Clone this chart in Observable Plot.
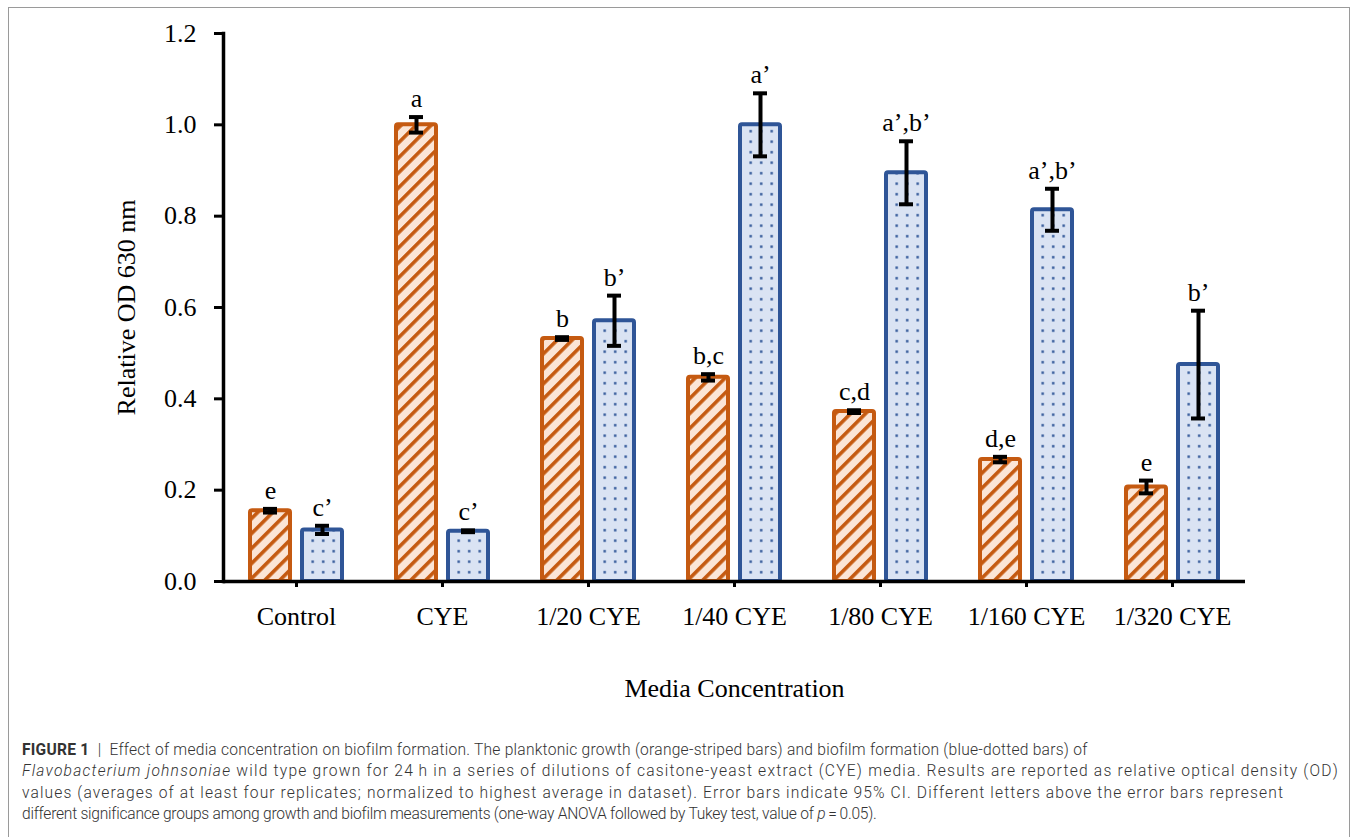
<!DOCTYPE html>
<html><head><meta charset="utf-8">
<script src="https://cdn.jsdelivr.net/npm/d3@7"></script>
<script src="https://cdn.jsdelivr.net/npm/@observablehq/plot@0.6"></script>
<style>
html,body{margin:0;padding:0;background:#fff;}
#frame{position:absolute;left:8px;top:7px;width:1342px;height:840px;border:1px solid #9a9a9a;border-bottom:none;box-sizing:border-box;}
#chart{position:absolute;left:0;top:0;}
#caption{position:absolute;left:22px;top:740px;font-family:Roboto,"Liberation Sans",sans-serif;font-weight:300;font-size:15.6px;line-height:21.3px;color:#333;white-space:nowrap;}
#caption span{display:block;width:max-content;}
#caption b{font-weight:700;}
</style></head><body>
<div id="frame"></div>
<div id="chart"></div>
<div id="caption"><span><b>FIGURE 1</b> &nbsp;|&nbsp; Effect of media concentration on biofilm formation. The planktonic growth (orange-striped bars) and biofilm formation (blue-dotted bars) of</span><span><i>Flavobacterium johnsoniae</i> wild type grown for 24&#8201;h in a series of dilutions of casitone-yeast extract (CYE) media. Results are reported as relative optical density (OD)</span><span>values (averages of at least four replicates; normalized to highest average in dataset). Error bars indicate 95% CI. Different letters above the error bars represent</span><span>different significance groups among growth and biofilm measurements (one-way ANOVA followed by Tukey test, value of <i>p</i>&#8201;=&#8201;0.05).</span></div>
<script>
const categories = ["Control", "CYE", "1/20 CYE", "1/40 CYE", "1/80 CYE", "1/160 CYE", "1/320 CYE"];
const series = ["Growth", "Biofilm"];
const growth = [0.155, 1.0, 0.532, 0.447, 0.372, 0.267, 0.207];
const growthErr = [0.004, 0.017, 0.003, 0.007, 0.003, 0.006, 0.014];
const growthLetters = ["e", "a", "b", "b,c", "c,d", "d,e", "e"];
const biofilm = [0.113, 0.110, 0.571, 1.0, 0.895, 0.814, 0.475];
const biofilmErr = [0.009, 0.002, 0.055, 0.069, 0.069, 0.046, 0.118];
const biofilmLetters = ["c’", "c’", "b’", "a’", "a’,b’", "a’,b’", "b’"];
const yTicks = [0, 0.2, 0.4, 0.6, 0.8, 1.0, 1.2];

const rows = categories.flatMap((c, i) => [
  {category: c, series: "Growth", value: growth[i], err: growthErr[i], letter: growthLetters[i]},
  {category: c, series: "Biofilm", value: biofilm[i], err: biofilmErr[i], letter: biofilmLetters[i]}
]);
const gRows = rows.filter(d => d.series === "Growth");
const bRows = rows.filter(d => d.series === "Biofilm");

const serif = "'Liberation Serif','Times New Roman',serif";
const ORANGE = "#C55A11", PEACH = "#FBE5D6", BLUE = "#2F5597", LIGHTBLUE = "#DAE3F3";

const defs = () => {
  const d = d3.create("svg:defs");
  d.html(`
    <pattern id="stripes" patternUnits="userSpaceOnUse" width="10.6" height="10.6" patternTransform="rotate(45)">
      <rect width="10.6" height="10.6" fill="${PEACH}"/>
      <rect x="0" y="0" width="3.6" height="10.6" fill="${ORANGE}"/>
    </pattern>
    <pattern id="dots" patternUnits="userSpaceOnUse" width="10.5" height="10.5">
      <rect width="10.5" height="10.5" fill="${LIGHTBLUE}"/>
      <rect x="4" y="4" width="2.4" height="2.4" fill="${BLUE}"/>
    </pattern>`);
  return d.node();
};

const plot = Plot.plot({
  width: 1356, height: 720,
  marginLeft: 220, marginRight: 109, marginTop: 33, marginBottom: 139,
  style: {fontFamily: serif, fontSize: "26px", color: "#000", background: "transparent", overflow: "visible"},
  fx: {domain: categories, padding: 0, label: null},
  x: {domain: series, paddingInner: 0.226, paddingOuter: 0.497, axis: null},
  y: {domain: [0, 1.2]},
  marks: [
    defs,
    Plot.barY(gRows, {fx: "category", x: "series", y: "value", fill: "url(#stripes)", stroke: ORANGE, strokeWidth: 4, rx: 2}),
    Plot.barY(bRows, {fx: "category", x: "series", y: "value", fill: "url(#dots)", stroke: BLUE, strokeWidth: 4, rx: 2}),
    Plot.ruleX(rows, {fx: "category", x: "series", y1: d => d.value - d.err, y2: d => d.value + d.err, stroke: "#000", strokeWidth: 4}),
    Plot.tickY(rows, {fx: "category", x: "series", y: d => d.value + d.err, stroke: "#000", strokeWidth: 4, insetLeft: 13, insetRight: 13}),
    Plot.tickY(rows, {fx: "category", x: "series", y: d => d.value - d.err, stroke: "#000", strokeWidth: 4, insetLeft: 13, insetRight: 13}),
    Plot.text(rows, {fx: "category", x: "series", y: d => d.value + d.err, text: "letter", dy: -10, lineAnchor: "bottom", fontSize: 26, fill: "#000"}),
    Plot.ruleY([0], {stroke: "#000", strokeWidth: 3.5}),
    Plot.frame({anchor: "left", facetAnchor: "left", stroke: "#000", strokeWidth: 3.5}),
    Plot.axisY({ticks: yTicks, tickFormat: d3.format(".1f"), tickSize: 9, tickPadding: 18, strokeWidth: 3, fontSize: 26,
      label: "Relative OD 630 nm", labelArrow: "none", labelAnchor: "center", labelOffset: 107}),
    Plot.axisFx({anchor: "bottom", tickSize: 6, tickPadding: 19, strokeWidth: 3, fontSize: 26,
      label: "Media Concentration", labelArrow: "none", labelAnchor: "center", labelOffset: 115})
  ]
});
document.getElementById("chart").appendChild(plot);

// fit caption lines to the reference line lengths
const lineEnds = [1087, 1339, 1284, 876];
document.querySelectorAll("#caption span").forEach((s, i) => {
  const w = s.getBoundingClientRect().width;
  const target = lineEnds[i] - 22;
  const n = s.textContent.length;
  s.style.letterSpacing = ((target - w) / n) + "px";
});
</script>
</body></html>
